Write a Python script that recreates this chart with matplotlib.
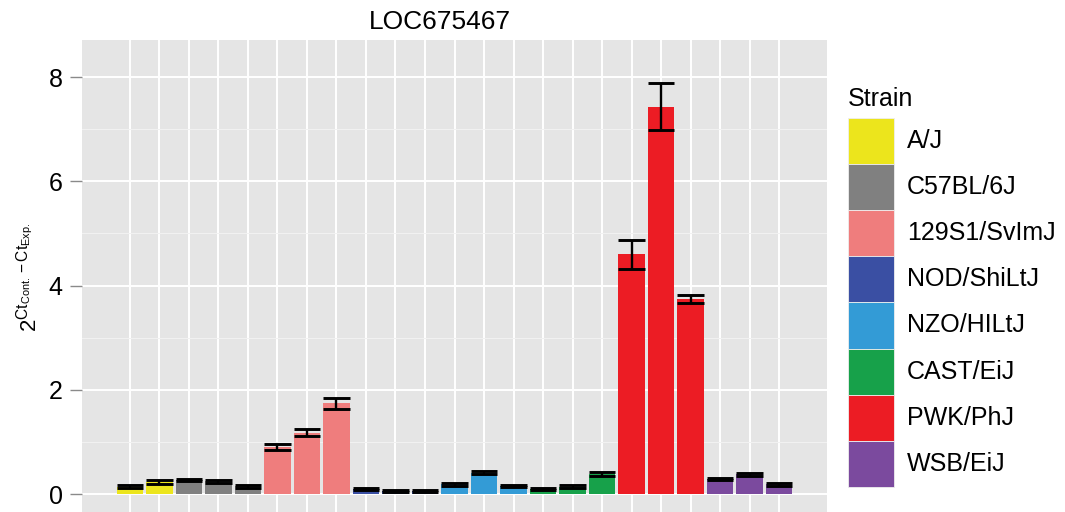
import matplotlib
matplotlib.use("Agg")
import matplotlib.pyplot as plt
from matplotlib.patches import Rectangle
import numpy as np

plt.rcParams['font.family'] = ['Liberation Sans', 'DejaVu Sans']
plt.rcParams['mathtext.fontset'] = 'custom'
plt.rcParams['mathtext.rm'] = 'Liberation Sans'
plt.rcParams['mathtext.it'] = 'Liberation Sans:italic'

# data
strains = ['A/J', 'C57BL/6J', '129S1/SvImJ', 'NOD/ShiLtJ',
           'NZO/HILtJ', 'CAST/EiJ', 'PWK/PhJ', 'WSB/EiJ']
strain_colors = ['#ECE51C', '#808080', '#EF7D7D', '#3A4FA3',
                 '#339BD6', '#17A14A', '#EC1C24', '#7B4A9E']
bar_strain = (['A/J'] * 2 + ['C57BL/6J'] * 3 + ['129S1/SvImJ'] * 3
              + ['NOD/ShiLtJ'] * 3 + ['NZO/HILtJ'] * 3 + ['CAST/EiJ'] * 3
              + ['PWK/PhJ'] * 3 + ['WSB/EiJ'] * 3)
means = [0.14, 0.23, 0.27, 0.245, 0.15,
         0.90, 1.18, 1.74,
         0.10, 0.05, 0.065,
         0.19, 0.41, 0.155,
         0.097, 0.14, 0.38,
         4.60, 7.43, 3.74,
         0.29, 0.38, 0.19]
errs = [0.03, 0.04, 0.02, 0.025, 0.03,
        0.05, 0.06, 0.10,
        0.025, 0.02, 0.02,
        0.03, 0.03, 0.025,
        0.02, 0.025, 0.04,
        0.28, 0.45, 0.08,
        0.025, 0.03, 0.03]
title = 'LOC675467'

W, H = 1065, 512
fig = plt.figure(figsize=(W / 100, H / 100), dpi=100)
ax = fig.add_axes([82 / W, 0, (827 - 82) / W, (H - 40) / H])
ax.set_facecolor('#E5E5E5')

x = np.arange(len(means))
cmap = dict(zip(strains, strain_colors))
cols = [cmap[s] for s in bar_strain]
means = np.array(means)
errs = np.array(errs)

ax.bar(x, means, width=0.9, color=cols, zorder=2)
ax.vlines(x, means - errs, means + errs, color='black', lw=1.7, zorder=3)
ax.hlines(means + errs, x - 0.45, x + 0.45, color='black', lw=2.1, zorder=3)
ax.hlines(means - errs, x - 0.45, x + 0.45, color='black', lw=2.1, zorder=3)

ax.set_xlim(-1.62, len(means) - 1 + 1.62)
ax.set_ylim(-0.345, 8.71)
ax.set_yticks([0, 2, 4, 6, 8])
ax.set_yticks([1, 3, 5, 7], minor=True)
ax.set_xticks(x)
ax.set_xticklabels([])
ax.grid(which='major', color='white', lw=1.4, zorder=0)
ax.grid(which='minor', axis='y', color='#F2F2F2', lw=0.7, zorder=0)
ax.set_axisbelow(True)
for s in ax.spines.values():
    s.set_visible(False)
ax.tick_params(axis='y', which='major', length=8.5, width=1, color='#8A8A8A',
               labelsize=18, pad=5.5)
ax.tick_params(axis='y', which='minor', length=0)
ax.tick_params(axis='x', length=0)

fig.text(440 / W, 1 - 22 / H, title, ha='center', va='center', fontsize=19)
fig.text(29 / W, 1 - 277 / H, r'$2^{\mathrm{Ct_{Cont.}-Ct_{Exp.}}}$',
         rotation=90, ha='center', va='center', fontsize=16)

# legend drawn in figure pixel space
lax = fig.add_axes([0, 0, 1, 1])
lax.set_xlim(0, W)
lax.set_ylim(H, 0)
lax.axis('off')
key_x, key_y, key = 848, 118, 46.1
lax.text(key_x, 99, 'Strain', ha='left', va='center', fontsize=18)
for i, (name, c) in enumerate(zip(strains, strain_colors)):
    lax.add_patch(Rectangle((key_x, key_y + key * i), key, key,
                            facecolor=c, edgecolor='#EEEEEE', lw=0.6))
    lax.text(key_x + key + 13, key_y + key * i + key / 2, name,
             ha='left', va='center', fontsize=18)

fig.savefig('out.png', dpi=100)
